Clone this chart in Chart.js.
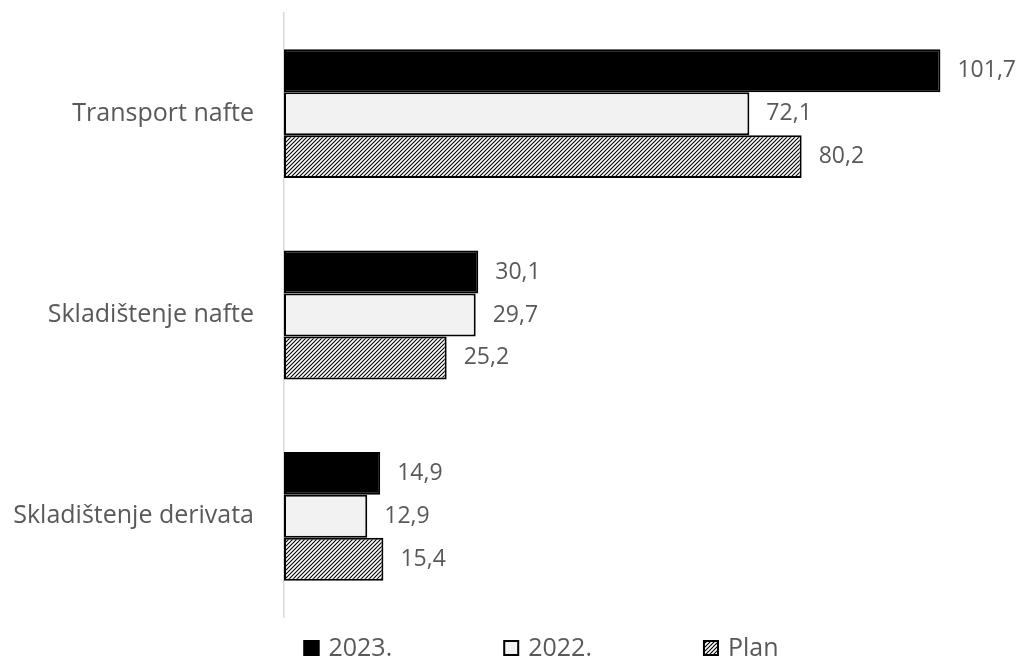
<!DOCTYPE html>
<html>
<head>
<meta charset="utf-8">
<script src="https://cdn.jsdelivr.net/npm/chart.js@4/dist/chart.umd.min.js"></script>
<style>
  html, body { margin: 0; padding: 0; background: #fff; }
  #wrap { width: 1021px; height: 657px; }
</style>
</head>
<body>
<div id="wrap"><canvas id="container-chart" width="1021" height="657"></canvas></div>
<script>
// podaci sa slike
const kategorije = ['Transport nafte', 'Skladištenje nafte', 'Skladištenje derivata'];
const serija2023 = [101.7, 30.1, 14.9];
const serija2022 = [72.1, 29.7, 12.9];
const serijaPlan = [80.2, 25.2, 15.4];
const oznakeSerija = ['2023.', '2022.', 'Plan'];

const sivaTekst = '#595959';
const fontFam = '"Open Sans", "Noto Sans", sans-serif';

// srafura za plan
function napraviSrafuru() {
  const n = 4;
  const c = document.createElement('canvas');
  c.width = n; c.height = n;
  const g = c.getContext('2d');
  g.fillStyle = '#fff';
  g.fillRect(0, 0, n, n);
  g.strokeStyle = '#000';
  g.lineWidth = 1.1;
  g.beginPath();
  g.moveTo(-1, n + 1); g.lineTo(n + 1, -1);
  g.moveTo(-1, 1); g.lineTo(1, -1);
  g.moveTo(n - 1, n + 1); g.lineTo(n + 1, n - 1);
  g.stroke();
  return g.createPattern(c, 'repeat');
}

const ctx = document.querySelector('#container-chart').getContext('2d');
const srafura = napraviSrafuru();

const fmt = v => v.toFixed(1).replace('.', ',');

// vrijednosti pored stupaca
const oznakeVrijednosti = {
  id: 'oznakeVrijednosti',
  afterDatasetsDraw(chart) {
    const c = chart.ctx;
    c.save();
    c.font = '23px ' + fontFam;
    c.fillStyle = sivaTekst;
    c.textBaseline = 'middle';
    c.textAlign = 'left';
    chart.data.datasets.forEach((ds, i) => {
      chart.getDatasetMeta(i).data.forEach((bar, j) => {
        c.fillText(fmt(ds.data[j]), bar.x + 17, bar.y);
      });
    });
    c.restore();
  }
};

// legenda ispod grafa
const legendaDolje = {
  id: 'legendaDolje',
  afterDraw(chart) {
    const c = chart.ctx;
    c.save();
    c.font = '25px ' + fontFam;
    c.textBaseline = 'middle';
    const box = 16, gapTxt = 9, razmak = 111, yc = 648, centar = 541;
    const sirine = chart.data.datasets.map(ds => box + gapTxt + c.measureText(ds.label).width);
    const ukupno = sirine.reduce((a, b) => a + b, 0) + razmak * (sirine.length - 1);
    let x = centar - ukupno / 2;
    chart.data.datasets.forEach((ds, i) => {
      c.fillStyle = ds.backgroundColor;
      c.fillRect(x, yc - box / 2, box, box);
      c.strokeStyle = '#000';
      c.lineWidth = 2;
      c.strokeRect(x + 1, yc - box / 2 + 1, box - 2, box - 2);
      c.fillStyle = sivaTekst;
      c.fillText(ds.label, x + box + gapTxt, yc + 1);
      x += sirine[i] + razmak;
    });
    c.restore();
  }
};

const configChart = {
  type: 'bar',
  data: {
    labels: kategorije,
    datasets: [
      { label: oznakeSerija[0], data: serija2023, backgroundColor: '#000000', borderColor: '#000000', borderWidth: 2 },
      { label: oznakeSerija[1], data: serija2022, backgroundColor: '#f2f2f2', borderColor: '#000000', borderWidth: 2 },
      { label: oznakeSerija[2], data: serijaPlan, backgroundColor: srafura, borderColor: '#000000', borderWidth: 2 }
    ]
  },
  options: {
    indexAxis: 'y',
    responsive: false,
    animation: false,
    layout: { padding: { top: 13, right: 27, bottom: 40, left: 0 } },
    datasets: { bar: { categoryPercentage: 0.64, barPercentage: 1, borderSkipped: false } },
    scales: {
      x: { display: false, min: 0, max: 110 },
      y: {
        afterFit: s => { s.width = 284; s.paddingTop = 0; s.paddingBottom = 0; },
        grid: { display: false, drawTicks: false },
        border: { display: true, color: '#d9d9d9', width: 1.5 },
        ticks: { color: sivaTekst, padding: 30, font: { family: fontFam, size: 25 } }
      }
    },
    plugins: {
      legend: { display: false },
      tooltip: { enabled: false }
    }
  },
  plugins: [oznakeVrijednosti, legendaDolje]
};

const myChart = new Chart(ctx, configChart);
</script>
</body>
</html>
